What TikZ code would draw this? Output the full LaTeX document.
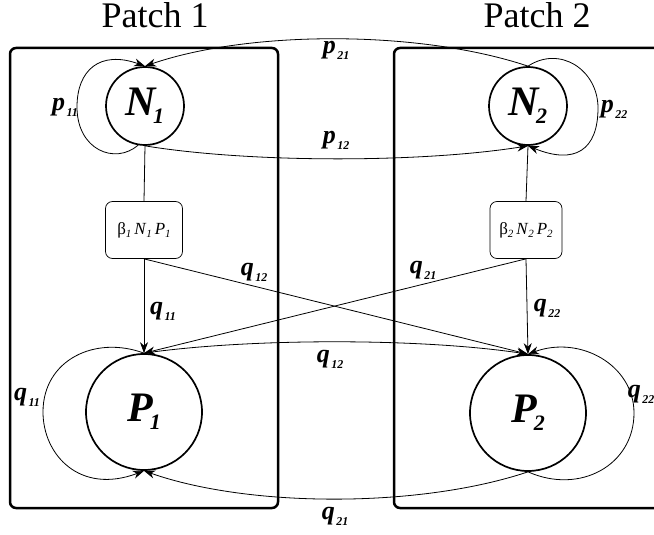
\documentclass[tikz,border=0pt]{standalone}
\usepackage{fontspec}
\setmainfont{Liberation Serif}
\usetikzlibrary{arrows.meta}
\newcommand\lbl[2]{{\fontsize{26}{26}\selectfont\bfseries\itshape #1}\kern1.5pt\raisebox{-6pt}{\fontsize{12}{12}\selectfont\bfseries\itshape #2}}
\newcommand\popname[2]{{\fontsize{42}{42}\selectfont\bfseries\itshape #1}\kern-3pt\raisebox{-8pt}{\fontsize{22}{22}\selectfont\bfseries\itshape #2}}
\newcommand\bsub[1]{\raisebox{-3pt}{\fontsize{11}{11}\selectfont\itshape #1}}
\newcommand\rate[1]{{\fontsize{17}{17}\selectfont β\bsub{#1}\,\textit{N}\bsub{#1}\,\textit{P}\bsub{#1}}}
\begin{document}
\begin{tikzpicture}[x=1pt,y=1pt,
  conn/.style={line width=0.8pt},
  arr/.style={conn,-{Stealth[length=11pt,width=8pt,inset=3.5pt]}},
  pop/.style={circle,draw,line width=1.7pt,inner sep=0pt},
  ratebox/.style={draw,rounded corners=7pt,minimum width=77pt,minimum height=57pt,line width=0.7pt,inner sep=0pt},
  patch/.style={draw,line width=2.5pt,rounded corners=6pt},
  lab/.style={inner sep=0pt}]
\useasboundingbox (0,0) rectangle (654,-535);
\clip (0,0) rectangle (654,-535);
\fill[white] (0,0) rectangle (654,-535);
% patches
\draw[patch] (10,-48) rectangle (278,-508);
\draw[patch] (394,-48) rectangle (690,-508);
\node (t1) at (155,-15) {\fontsize{36}{36}\selectfont Patch 1};
\node (t2) at (537,-15) {\fontsize{36}{36}\selectfont Patch 2};
% nodes
\node[pop,minimum size=78pt] (N1) at (145,-106) {\popname{N}{1}};
\node[pop,minimum size=78pt] (N2) at (528,-106) {\popname{N}{2}};
\node[ratebox] (b1) at (144,-230) {\rate{1}};
\node[ratebox,minimum width=72pt] (b2) at (526,-230) {\rate{2}};
\node[pop,minimum size=116pt] (P1) at (144,-412) {\popname{P}{1}};
\node[pop,minimum size=116pt] (P2) at (528,-413) {\popname{P}{2}};
% connectors
\draw[conn] (N1.south) -- (b1.north);
\draw[conn] (N2.south) -- (b2.north);
\draw[arr] (b1.south) -- (P1.north);
\draw[arr] (b2.south) -- (P2.north);
\draw[arr] (b1.south) -- (P2.north);
\draw[arr] (b2.south) -- (P1.north);
\draw[arr] (N2.north) .. controls (420,-30) and (250,-30) .. (N1.north);
\draw[arr] (N1.south) .. controls (250,-163) and (420,-163) .. (N2.south);
\draw[arr] (P1.north) .. controls (250,-338) and (420,-338) .. (P2.north);
\draw[arr] (P2.south) .. controls (420,-508) and (250,-508) .. (P1.south);
% self loops
\draw[arr] (N1.-100) .. controls (115,-165) and (77,-150) .. (77,-107) .. controls (77,-70) and (100,-50) .. (N1.north);
\draw[arr] (N2.north) .. controls (560,-45) and (598,-70) .. (598,-108) .. controls (598,-150) and (575,-165) .. (N2.south);
\draw[arr] (P1.north) .. controls (95,-335) and (43,-360) .. (43,-412) .. controls (43,-455) and (80,-495) .. (P1.south);
\draw[arr] (P2.south) .. controls (580,-495) and (634,-465) .. (634,-413) .. controls (634,-365) and (580,-335) .. (P2.north);
% labels
\node[lab] (lp11) at (65,-107) {\lbl{p}{11}};
\node[lab] (lp22) at (614,-109) {\lbl{p}{22}};
\node[lab] (lp21) at (336,-50) {\lbl{p}{21}};
\node[lab] (lp12) at (336,-140) {\lbl{p}{12}};
\node[lab] (lq11a) at (163,-311) {\lbl{q}{11}};
\node[lab] (lq12a) at (254,-272) {\lbl{q}{12}};
\node[lab] (lq21a) at (423,-270) {\lbl{q}{21}};
\node[lab] (lq22a) at (547,-308) {\lbl{q}{22}};
\node[lab] (lq12b) at (330,-359) {\lbl{q}{12}};
\node[lab] (lq21b) at (335,-516) {\lbl{q}{21}};
\node[lab] (lq11b) at (27,-397) {\lbl{q}{11}};
\node[lab] (lq22b) at (641,-394) {\lbl{q}{22}};
\end{tikzpicture}
\end{document}
